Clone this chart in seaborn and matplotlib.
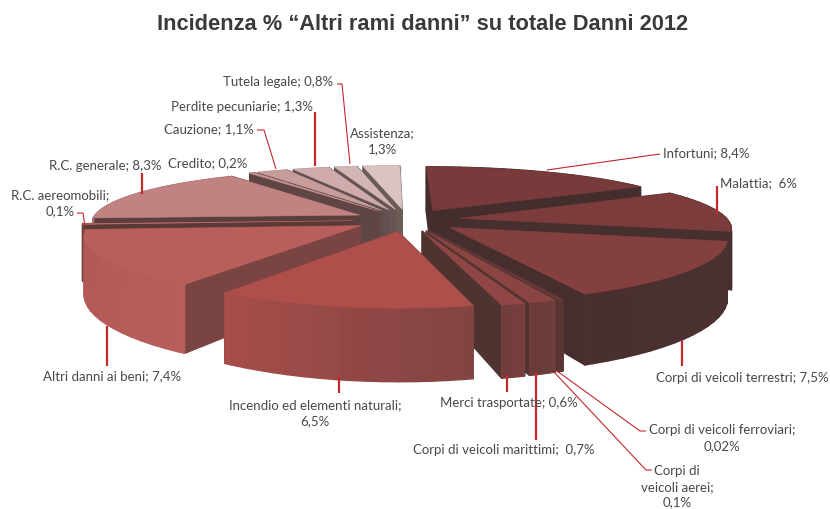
import numpy as np
import seaborn as sns
import matplotlib
matplotlib.use("Agg")
import matplotlib.pyplot as plt
from matplotlib.patches import Polygon
from matplotlib.transforms import Affine2D

# Incidenza % per ramo, in senso orario dall'alto
values = [8.4, 6, 7.5, 0.02, 0.1, 0.7, 0.6, 6.5, 7.4, 0.1, 8.3, 0.2, 1.1, 1.3, 0.8, 1.3]
slice_names = ["Infortuni", "Malattia", "Corpi di veicoli terrestri", "Corpi di veicoli ferroviari",
               "Corpi di veicoli aerei", "Corpi di veicoli marittimi", "Merci trasportate",
               "Incendio ed elementi naturali", "Altri danni ai beni", "R.C. aereomobili",
               "R.C. generale", "Credito", "Cauzione", "Perdite pecuniarie", "Tutela legale", "Assistenza"]
label_texts = ["Infortuni; 8,4%", "Malattia;  6%", "Corpi di veicoli terrestri; 7,5%",
               "Corpi di veicoli ferroviari;\n0,02%", "Corpi di\nveicoli aerei;\n0,1%",
               "Corpi di veicoli marittimi;  0,7%", "Merci trasportate; 0,6%",
               "Incendio ed elementi naturali;\n6,5%", "Altri danni ai beni; 7,4%",
               "R.C. aereomobili;\n0,1%", "R.C. generale; 8,3%", "Credito; 0,2%",
               "Cauzione; 1,1%", "Perdite pecuniarie; 1,3%", "Tutela legale; 0,8%", "Assistenza;\n1,3%"]

top_cols = ["#783a3b", "#7d3c3c", "#843f3f", "#6b3a38", "#6b3a38", "#8a4442", "#8f4644", "#ae4f4c",
            "#b85f5c", "#bb6a68", "#c18282", "#c79393", "#c99c9c", "#d0abab", "#d4b5b5", "#d9c3c3"]
outer_cols = [("#432d2d", "#432d2d"), ("#46302f", "#46302f"), ("#4a2f2f", "#4a3231"),
              ("#5a3533", "#5a3533"), ("#5a3533", "#5a3533"), ("#6b3c39", "#6f3d3b"),
              ("#6f3d3b", "#7a3f3d"), ("#a84e4b", "#7f4341"), ("#b05654", "#b85e5c"),
              ("#6a3f3d", "#6a3f3d"), ("#a06868", "#a87070"), ("#a07c7c", "#a07c7c"),
              ("#b08c8c", "#b08c8c"), ("#b89a9a", "#b89a9a"), ("#bca5a5", "#bca5a5"),
              ("#c2afaf", "#c2afaf")]
side_cols = ["#432d2d", "#452f2f", "#452e2d", "#4f3331", "#4f3331", "#4f3331", "#4f3331", "#7b4240",
             "#7a4442", "#5b3937", "#5b3f3f", "#5f4644", "#5f4a48", "#625150", "#665553", "#6b5c5a"]

# segmenti di richiamo, in pixel dell'immagine
leaders = [[(547, 171), (660, 155)], [(717, 187), (717, 215)], [(682, 341), (682, 367)],
           [(557, 372), (640, 432), (646, 432)], [(554, 373), (646, 471), (652, 471)],
           [(536, 373), (536, 441)], [(507, 376), (507, 393)], [(339, 378), (339, 394)],
           [(107, 327), (107, 367)], [(77, 214), (83, 214), (85, 228)], [(142, 174), (142, 195)],
           None, [(257, 131), (264, 131), (276, 170)], [(315, 113), (315, 167)],
           [(337, 85), (342, 85), (350, 165)], None]
leader_lw = [1, 2, 2, 1, 1, 2, 2, 2, 2, 1, 2, 0, 1, 2, 1, 0]
label_pos = [(663, 153, "left"), (720, 183, "left"), (829, 378, "right"), (722, 438, "center"),
             (677, 487, "center"), (504, 450, "center"), (509, 403, "center"), (315, 413, "center"),
             (112, 376, "center"), (60, 203, "center"), (105, 166, "center"), (208, 163, "center"),
             (209, 129, "center"), (242, 107, "center"), (278, 82, "center"), (382, 141, "center")]

sns.set_theme(style="white")
plt.rcParams["font.family"] = ["Lato", "DejaVu Sans"]

fig = plt.figure(figsize=(8.3, 5.1), dpi=100)
ax = fig.add_axes([0, 0, 1, 1])

wedges, _ = ax.pie(values, explode=[0.2] * len(values), startangle=90, counterclock=False,
                   radius=1, labels=None)

cx, cy = 407, 221      # centro della torta
rx, ry = 268, 56       # semiassi
depth = 56             # spessore
kx, ky = 0.15, 0.2     # prospettiva
shear = 3


def project(p, z=0.0):
    wx = 1 + kx * p[1]
    wy = 1 + ky * p[1]
    return (cx + rx * p[0] / wx - shear * p[1], cy - ry * p[1] / wy + depth * z / wy)


shapes = []
fine = Affine2D().scale(400)
for i, wd in enumerate(wedges):
    # scala grande per avere l'arco ben suddiviso
    pts = wd.get_patch_transform().transform_path(wd.get_path()).to_polygons(fine, closed_only=False)[0] / 400
    keep = [pts[0]]
    for p in pts[1:]:
        if np.hypot(*(p - keep[-1])) > 1e-4:
            keep.append(p)
    pts = np.array(keep)
    apex = np.array(wd.center)
    shapes.append((i, pts, apex))
    wd.remove()

# dal fondo verso il davanti, Incendio per ultimo come nel grafico
order = sorted(shapes, key=lambda s: (s[0] == 7, -s[1][:, 1].mean()))

for i, pts, apex in order:
    quads = []
    n = len(pts)
    for j in range(n):
        a, b = pts[j], pts[(j + 1) % n]
        radial = np.hypot(*(a - apex)) < 1e-3 or np.hypot(*(b - apex)) < 1e-3
        quads.append((a, b, radial))
    arc = [q for q in quads if not q[2]]
    pal = sns.blend_palette(list(outer_cols[i]), max(len(arc), 2))
    m = 0
    faces = []
    for a, b, radial in quads:
        if radial:
            col = side_cols[i]
        else:
            col = pal[m]
            m += 1
        faces.append(((a[1] + b[1]) / 2, radial, a, b, col))
    faces.sort(key=lambda f: -f[0])
    for _, radial, a, b, col in faces:
        poly = [project(a), project(b), project(b, 1), project(a, 1)]
        ax.add_patch(Polygon(poly, closed=True, facecolor=col, edgecolor=col, lw=1.0, joinstyle="round"))
    top = [project(p) for p in pts]
    ax.add_patch(Polygon(top, closed=True, facecolor=top_cols[i], edgecolor=top_cols[i], lw=0.4))

for seg, lw in zip(leaders, leader_lw):
    if seg is None:
        continue
    xs, ys = zip(*seg)
    ax.plot(xs, ys, color="#c1272d", lw=lw * 0.8, solid_capstyle="butt", zorder=5)

for txt, (x, y, ha) in zip(label_texts, label_pos):
    ax.text(x, y, txt, ha=ha, va="center", fontsize=9.5, color="#484848", linespacing=1.35,
            multialignment="center", zorder=6)

ax.text(423, 24, "Incidenza % “Altri rami danni” su totale Danni 2012", ha="center", va="center",
        fontsize=15.75, fontweight="bold", family="Liberation Sans", color="#3a3a3a")

ax.set_aspect("auto")
ax.set_xlim(0, 830)
ax.set_ylim(510, 0)
ax.axis("off")

plt.savefig("out.png", dpi=100)
